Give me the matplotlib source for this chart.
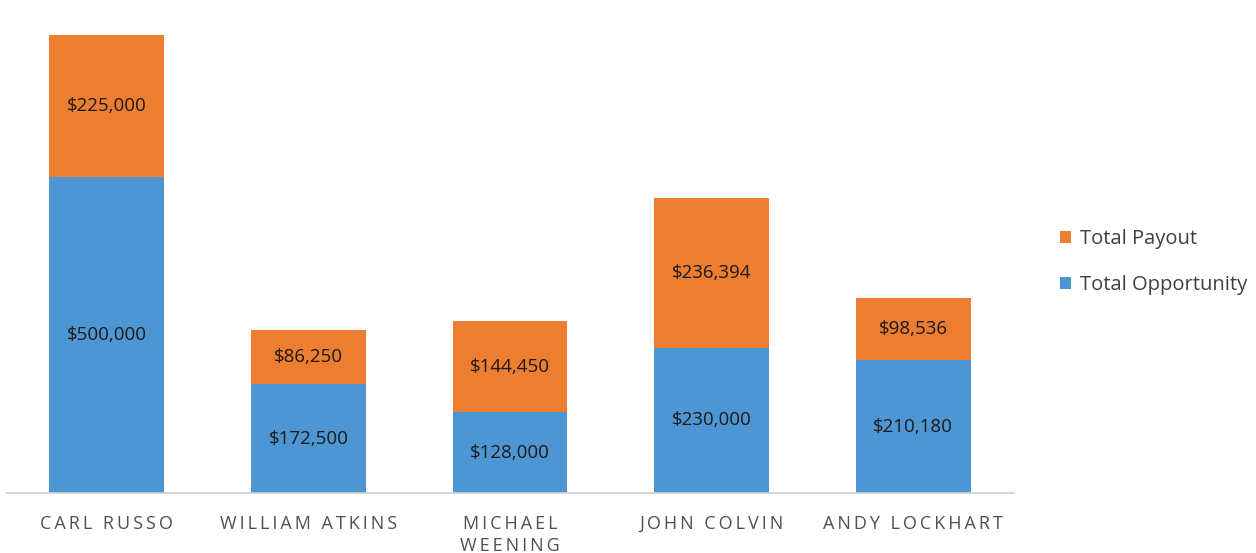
import matplotlib
matplotlib.use("Agg")
import matplotlib.pyplot as plt
import numpy as np

names = ["CARL RUSSO", "WILLIAM ATKINS", "MICHAEL\nWEENING", "JOHN COLVIN", "ANDY LOCKHART"]
opportunity = [500000, 172500, 128000, 230000, 210180]
payout = [225000, 86250, 144450, 236394, 98536]

BLUE = "#4E96D3"
ORANGE = "#ED7D31"
FONT = ["Open Sans", "DejaVu Sans"]


def spaced(s):
    # imitate the wide letter spacing of the axis labels
    return "\n".join("\u2009".join(line) for line in s.split("\n"))


fig = plt.figure(figsize=(12.56, 5.53), dpi=100)
ax = fig.add_axes([6 / 1256, 60 / 553, 1008 / 1256, 483 / 553])

x = np.arange(len(names))
ax.bar(x, opportunity, width=0.57, color=BLUE, label="Total Opportunity", zorder=2)
ax.bar(x, payout, width=0.57, bottom=opportunity, color=ORANGE, label="Total Payout", zorder=2)

top = max(o + p for o, p in zip(opportunity, payout))
ax.set_xlim(-0.5, len(names) - 0.5)
ax.set_ylim(0, top * 483 / 458)

for xi, o, p in zip(x, opportunity, payout):
    ax.text(xi, o / 2, f"${o:,}", ha="center", va="center", fontsize=13.5,
            color="#1a1a1a", family=FONT)
    ax.text(xi, o + p / 2, f"${p:,}", ha="center", va="center", fontsize=13.5,
            color="#1a1a1a", family=FONT)

ax.set_xticks(x)
ax.set_xticklabels([spaced(n) for n in names], fontsize=13, color="#505050",
                   family=FONT, linespacing=1.3)
ax.tick_params(axis="x", length=0, pad=16)
ax.set_yticks([])
for s in ["top", "right", "left"]:
    ax.spines[s].set_visible(False)
ax.spines["bottom"].set_color("#d0d0d0")
ax.spines["bottom"].set_linewidth(1.2)

handles, labels = ax.get_legend_handles_labels()
leg = fig.legend(handles[::-1], labels[::-1], loc="center left",
                 bbox_to_anchor=(1042 / 1256, 1 - 262 / 553), frameon=False,
                 handlelength=0.55, handleheight=0.55, handletextpad=0.45,
                 labelspacing=1.3, prop={"family": FONT, "size": 14.5})
for t in leg.get_texts():
    t.set_color("#404040")

fig.savefig("out.png", dpi=100)
